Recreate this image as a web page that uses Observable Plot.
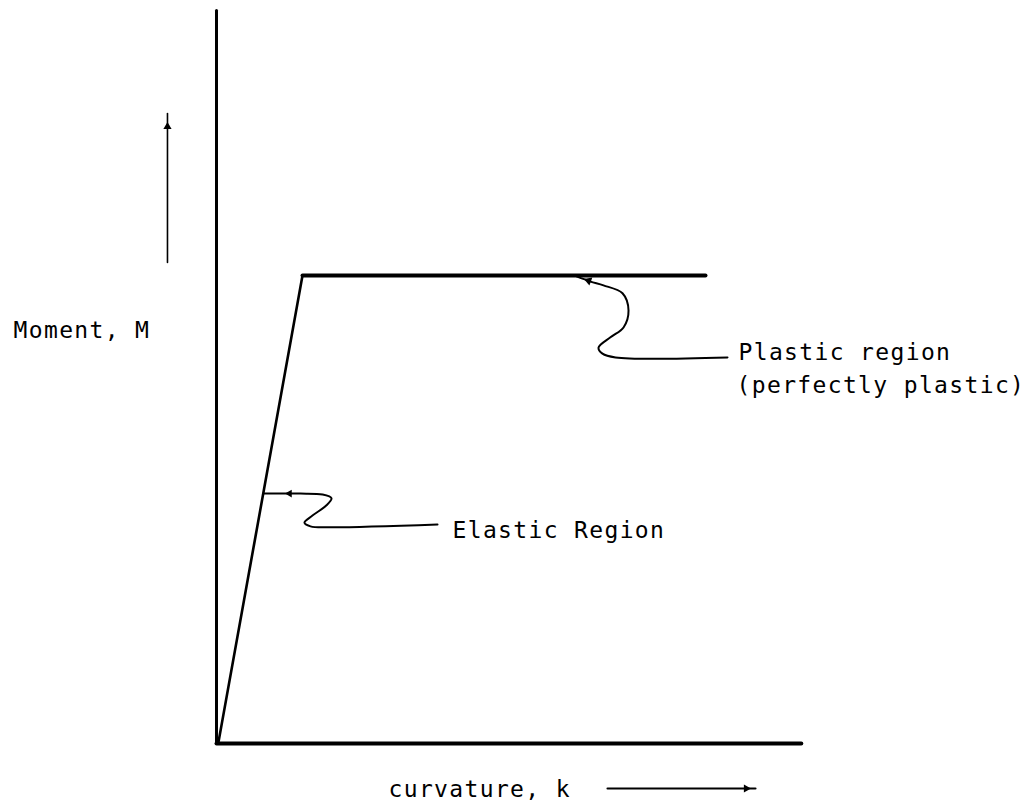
<!DOCTYPE html>
<html><head><meta charset="utf-8">
<script src="https://cdn.jsdelivr.net/npm/d3@7"></script>
<script src="https://cdn.jsdelivr.net/npm/@observablehq/plot@0.6"></script>
<style>
html,body{margin:0;padding:0;background:#fff;}
#chart svg{display:block;}
#chart svg text{letter-spacing:1.35px;}
</style></head><body><div id="chart"></div>
<script>
// Moment–curvature relationship (idealised elastic–perfectly plastic)
const curvature = [0.02, 1.0, 5.686];   // k (k/ky)
const moment    = [0.0, 1.0, 1.0];      // M (M/Mp)

// axis extents (data units)
const kAxisEnd = 6.80;
const mAxisEnd = 1.566;

// annotation leader lines (data units)
const elasticLeaderK = [0.547, 0.977, 1.233, 1.337, 1.279, 1.116, 1.023, 1.093, 1.326, 2.570];
const elasticLeaderM = [0.534, 0.534, 0.532, 0.524, 0.509, 0.487, 0.472, 0.464, 0.462, 0.468];
const plasticLeaderK = [4.186, 4.349, 4.500, 4.721, 4.791, 4.733, 4.581, 4.442, 4.488, 4.640, 5.942];
const plasticLeaderM = [0.998, 0.987, 0.979, 0.962, 0.925, 0.889, 0.868, 0.846, 0.833, 0.825, 0.825];

// direction arrows beside axis titles
const mArrowK = -0.570, mArrowM = [1.028, 1.346];
const kArrowM = -0.0962, kArrowK = [4.547, 6.267];

// labels
const labelText = ["Moment, M", "Plastic region", "(perfectly plastic)", "Elastic Region", "curvature, k"];
const labelK    = [-2.360, 6.070, 6.047, 2.744, 2.0];
const labelM    = [0.882, 0.835, 0.765, 0.455, -0.0983];

// arrowheads: position and pointing direction (degrees)
const headK   = [0.849, 4.326, mArrowK, 6.160];
const headM   = [0.534, 0.989, 1.318, kArrowM];
const headRot = [-90, -70, 0, 90];
const headR   = [4.5, 5.5, 5, 5];

const zip = (ks, ms) => ks.map((k, i) => ({k, M: ms[i]}));

const chart = Plot.plot({
  width: 1034,
  height: 810,
  margin: 0,
  style: {background: "#fff", color: "#000"},
  x: {domain: [-2.5116, 9.5116], axis: null},
  y: {domain: [-0.14316, 1.58761], axis: null},
  marks: [
    // axes
    Plot.line(zip([0, 0], [0, mAxisEnd]), {x: "k", y: "M", stroke: "#000", strokeWidth: 3}),
    Plot.line(zip([0, kAxisEnd], [0, 0]), {x: "k", y: "M", stroke: "#000", strokeWidth: 4}),
    // elastic segment
    Plot.line(zip(curvature.slice(0, 2), moment.slice(0, 2)), {x: "k", y: "M", stroke: "#000", strokeWidth: 2.6}),
    // plastic plateau
    Plot.line(zip(curvature.slice(1), moment.slice(1)), {x: "k", y: "M", stroke: "#000", strokeWidth: 4, strokeLinejoin: "round"}),
    // leaders
    Plot.line(zip(elasticLeaderK, elasticLeaderM), {x: "k", y: "M", stroke: "#000", strokeWidth: 2, curve: "catmull-rom"}),
    Plot.line(zip(plasticLeaderK, plasticLeaderM), {x: "k", y: "M", stroke: "#000", strokeWidth: 2, curve: "catmull-rom"}),
    // direction arrows
    Plot.line(zip([mArrowK, mArrowK], mArrowM), {x: "k", y: "M", stroke: "#000", strokeWidth: 1.6}),
    Plot.line(zip(kArrowK, [kArrowM, kArrowM]), {x: "k", y: "M", stroke: "#000", strokeWidth: 2.2}),
    // arrowheads
    Plot.dot(headK.map((k, i) => ({k, M: headM[i], rot: headRot[i], r: headR[i]})),
      {x: "k", y: "M", symbol: "triangle", r: "r", rotate: "rot", fill: "#000", stroke: "none"}),
    // labels
    Plot.text(labelText.map((t, i) => ({t, k: labelK[i], M: labelM[i]})),
      {x: "k", y: "M", text: "t", textAnchor: "start", fill: "#000",
       fontFamily: "DejaVu Sans Mono", fontSize: 23})
  ]
});
document.getElementById("chart").appendChild(chart);
</script>
</body></html>
